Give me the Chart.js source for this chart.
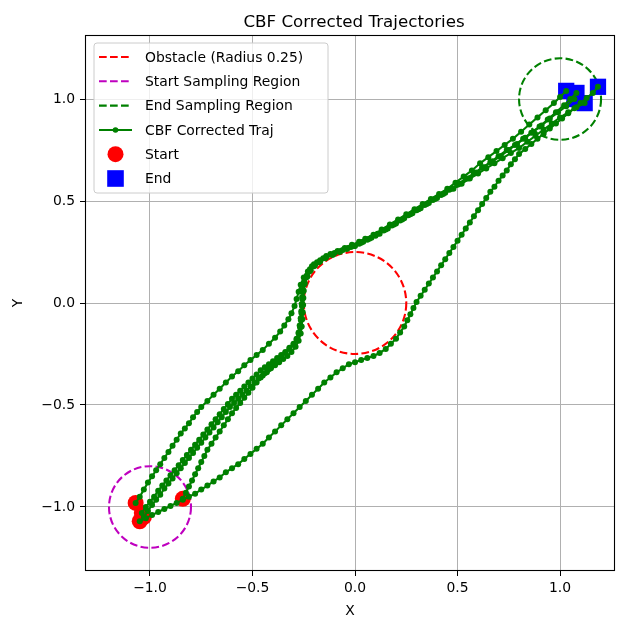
<!DOCTYPE html>
<html><head><meta charset="utf-8">
<script src="https://cdn.jsdelivr.net/npm/chart.js@4.4.0/dist/chart.umd.min.js"></script>
<style>html,body{margin:0;padding:0;background:#fff;}#wrap{width:617px;height:622px;}</style>
</head><body><div id="wrap"><canvas id="c" width="617" height="622"></canvas></div>
<script>
// ---------- data ----------
const xTicks = [-1.0, -0.5, 0.0, 0.5, 1.0];
const yTicks = [-1.0, -0.5, 0.0, 0.5, 1.0];
const xLimits = [-1.317, 1.268];
const yLimits = [-1.314, 1.314];

const regionNames = ['Obstacle (Radius 0.25)', 'Start Sampling Region', 'End Sampling Region'];
const regionCenters = [[0, 0], [-1, -1], [1, 1]];
const regionRadii = [0.25, 0.2, 0.2];

const starts = [[-1.07,-0.98],[-1.04,-1.03],[-1.03,-1.05],[-0.84,-0.96],[-1.05,-1.07]];
const ends = [[1.03,1.04],[1.08,1.03],[1.12,0.98],[1.07,1.0],[1.185,1.06]];

const traj1 = [[-1.07,-0.98],[-1.05,-0.95],[-1.03,-0.915],[-1.01,-0.88],[-0.99,-0.85],[-0.97,-0.82],[-0.95,-0.79],[-0.93,-0.76],[-0.91,-0.73],[-0.89,-0.70],[-0.87,-0.67],[-0.85,-0.64],[-0.83,-0.615],[-0.81,-0.59],[-0.79,-0.56],[-0.77,-0.535],[-0.75,-0.51],[-0.72,-0.48],[-0.69,-0.45],[-0.66,-0.42],[-0.63,-0.39],[-0.60,-0.36],[-0.57,-0.335],[-0.54,-0.305],[-0.51,-0.28],[-0.48,-0.255],[-0.45,-0.23],[-0.42,-0.20],[-0.39,-0.17],[-0.365,-0.14],[-0.345,-0.11],[-0.325,-0.08],[-0.31,-0.05],[-0.295,-0.015],[-0.285,0.02],[-0.275,0.055],[-0.265,0.09],[-0.25,0.125],[-0.23,0.155],[-0.21,0.18],[-0.185,0.20],[-0.155,0.22],[-0.12,0.24],[-0.085,0.255],[-0.05,0.27],[-0.015,0.285],[0.02,0.30],[0.05,0.315],[0.09,0.335],[0.13,0.36],[0.17,0.385],[0.21,0.41],[0.25,0.435],[0.29,0.46],[0.33,0.485],[0.37,0.51],[0.41,0.535],[0.45,0.56],[0.49,0.59],[0.53,0.62],[0.57,0.65],[0.61,0.685],[0.65,0.715],[0.69,0.745],[0.73,0.775],[0.77,0.805],[0.81,0.84],[0.85,0.875],[0.89,0.91],[0.93,0.945],[0.97,0.98],[1.00,1.01],[1.03,1.04]];

const traj2 = [[-1.04,-1.03],[-1.02,-1.00],[-1.00,-0.975],[-0.98,-0.95],[-0.96,-0.92],[-0.94,-0.895],[-0.92,-0.87],[-0.90,-0.845],[-0.88,-0.82],[-0.86,-0.795],[-0.84,-0.77],[-0.82,-0.745],[-0.80,-0.72],[-0.78,-0.695],[-0.76,-0.67],[-0.74,-0.645],[-0.72,-0.62],[-0.70,-0.595],[-0.68,-0.57],[-0.66,-0.545],[-0.64,-0.52],[-0.62,-0.495],[-0.60,-0.47],[-0.58,-0.45],[-0.56,-0.43],[-0.54,-0.41],[-0.52,-0.39],[-0.50,-0.37],[-0.48,-0.35],[-0.46,-0.33],[-0.44,-0.315],[-0.42,-0.30],[-0.40,-0.285],[-0.38,-0.27],[-0.36,-0.255],[-0.34,-0.24],[-0.32,-0.22],[-0.30,-0.20],[-0.285,-0.175],[-0.275,-0.145],[-0.27,-0.11],[-0.265,-0.075],[-0.262,-0.04],[-0.26,-0.005],[-0.258,0.03],[-0.255,0.065],[-0.248,0.10],[-0.235,0.135],[-0.22,0.165],[-0.20,0.19],[-0.17,0.21],[-0.14,0.23],[-0.10,0.245],[-0.06,0.26],[-0.02,0.275],[0.02,0.29],[0.06,0.31],[0.10,0.33],[0.14,0.355],[0.18,0.38],[0.22,0.405],[0.26,0.43],[0.30,0.455],[0.34,0.48],[0.38,0.505],[0.42,0.53],[0.46,0.555],[0.50,0.58],[0.54,0.61],[0.58,0.635],[0.62,0.665],[0.66,0.69],[0.70,0.72],[0.74,0.75],[0.78,0.775],[0.82,0.805],[0.86,0.835],[0.90,0.865],[0.94,0.90],[0.98,0.935],[1.02,0.97],[1.05,1.0],[1.08,1.03]];

const traj3 = [[-1.03,-1.05],[-1.01,-1.02],[-0.99,-0.99],[-0.97,-0.965],[-0.95,-0.94],[-0.93,-0.91],[-0.91,-0.885],[-0.89,-0.86],[-0.87,-0.835],[-0.85,-0.81],[-0.83,-0.785],[-0.81,-0.76],[-0.79,-0.735],[-0.77,-0.71],[-0.75,-0.685],[-0.73,-0.66],[-0.71,-0.635],[-0.69,-0.61],[-0.67,-0.585],[-0.65,-0.56],[-0.63,-0.535],[-0.61,-0.51],[-0.59,-0.49],[-0.57,-0.47],[-0.55,-0.45],[-0.53,-0.43],[-0.51,-0.41],[-0.49,-0.39],[-0.47,-0.37],[-0.45,-0.355],[-0.43,-0.34],[-0.41,-0.32],[-0.39,-0.305],[-0.37,-0.29],[-0.35,-0.275],[-0.33,-0.26],[-0.31,-0.24],[-0.29,-0.215],[-0.275,-0.185],[-0.265,-0.15],[-0.26,-0.115],[-0.257,-0.08],[-0.255,-0.045],[-0.253,-0.01],[-0.252,0.025],[-0.25,0.06],[-0.245,0.095],[-0.232,0.13],[-0.216,0.16],[-0.195,0.185],[-0.17,0.205],[-0.14,0.225],[-0.105,0.24],[-0.07,0.255],[-0.035,0.27],[0.0,0.28],[0.04,0.30],[0.08,0.32],[0.12,0.34],[0.16,0.365],[0.20,0.39],[0.24,0.415],[0.28,0.44],[0.32,0.465],[0.36,0.49],[0.40,0.515],[0.44,0.54],[0.48,0.56],[0.52,0.585],[0.56,0.61],[0.60,0.635],[0.64,0.66],[0.68,0.685],[0.72,0.71],[0.76,0.735],[0.80,0.76],[0.84,0.79],[0.88,0.82],[0.92,0.85],[0.96,0.88],[1.00,0.91],[1.04,0.935],[1.08,0.96],[1.12,0.98]];

const traj4 = [[-0.84,-0.96],[-0.825,-0.93],[-0.81,-0.90],[-0.795,-0.87],[-0.78,-0.84],[-0.765,-0.81],[-0.75,-0.78],[-0.735,-0.75],[-0.72,-0.72],[-0.70,-0.69],[-0.68,-0.66],[-0.66,-0.63],[-0.64,-0.60],[-0.62,-0.57],[-0.60,-0.54],[-0.58,-0.515],[-0.56,-0.49],[-0.54,-0.465],[-0.52,-0.44],[-0.50,-0.415],[-0.48,-0.39],[-0.46,-0.365],[-0.44,-0.345],[-0.42,-0.325],[-0.40,-0.305],[-0.38,-0.285],[-0.36,-0.265],[-0.34,-0.245],[-0.32,-0.225],[-0.30,-0.205],[-0.285,-0.18],[-0.275,-0.15],[-0.268,-0.12],[-0.264,-0.085],[-0.261,-0.05],[-0.259,-0.015],[-0.257,0.02],[-0.255,0.055],[-0.25,0.09],[-0.238,0.125],[-0.222,0.155],[-0.20,0.18],[-0.175,0.20],[-0.145,0.22],[-0.11,0.235],[-0.075,0.25],[-0.04,0.265],[-0.005,0.28],[0.03,0.295],[0.07,0.315],[0.11,0.34],[0.15,0.36],[0.19,0.385],[0.23,0.41],[0.27,0.435],[0.31,0.46],[0.35,0.485],[0.39,0.51],[0.43,0.535],[0.47,0.56],[0.51,0.585],[0.55,0.61],[0.59,0.64],[0.63,0.665],[0.67,0.695],[0.71,0.72],[0.75,0.75],[0.79,0.78],[0.83,0.81],[0.87,0.84],[0.91,0.87],[0.95,0.905],[0.99,0.935],[1.03,0.965],[1.07,1.0]];

const traj5 = [[-1.05,-1.07],[-1.02,-1.055],[-0.99,-1.04],[-0.96,-1.025],[-0.93,-1.01],[-0.90,-0.995],[-0.87,-0.98],[-0.84,-0.965],[-0.81,-0.95],[-0.78,-0.935],[-0.75,-0.915],[-0.72,-0.895],[-0.69,-0.875],[-0.66,-0.855],[-0.63,-0.83],[-0.60,-0.81],[-0.57,-0.79],[-0.54,-0.765],[-0.51,-0.74],[-0.48,-0.715],[-0.45,-0.69],[-0.42,-0.66],[-0.39,-0.63],[-0.36,-0.60],[-0.33,-0.57],[-0.30,-0.54],[-0.27,-0.51],[-0.24,-0.48],[-0.21,-0.45],[-0.18,-0.42],[-0.15,-0.39],[-0.12,-0.365],[-0.09,-0.34],[-0.06,-0.32],[-0.03,-0.30],[0.00,-0.29],[0.03,-0.28],[0.06,-0.27],[0.09,-0.26],[0.12,-0.245],[0.15,-0.225],[0.175,-0.20],[0.20,-0.175],[0.22,-0.145],[0.24,-0.115],[0.255,-0.085],[0.27,-0.055],[0.285,-0.025],[0.30,0.005],[0.32,0.035],[0.34,0.065],[0.36,0.095],[0.38,0.125],[0.40,0.155],[0.42,0.185],[0.44,0.215],[0.46,0.245],[0.48,0.275],[0.50,0.305],[0.52,0.335],[0.54,0.365],[0.56,0.395],[0.58,0.425],[0.60,0.455],[0.62,0.485],[0.64,0.515],[0.66,0.545],[0.68,0.57],[0.70,0.60],[0.72,0.625],[0.74,0.65],[0.76,0.68],[0.78,0.705],[0.80,0.73],[0.83,0.755],[0.86,0.78],[0.89,0.805],[0.92,0.83],[0.95,0.855],[0.98,0.88],[1.01,0.905],[1.04,0.93],[1.07,0.955],[1.10,0.98],[1.13,1.005],[1.16,1.03],[1.185,1.06]];

const trajectories = [traj1, traj2, traj3, traj4, traj5];
const legendLabels = ['Obstacle (Radius 0.25)','Start Sampling Region','End Sampling Region','CBF Corrected Traj','Start','End'];
const titleText = 'CBF Corrected Trajectories';

// ---------- styles ----------
const FONT = '"DejaVu Sans", Verdana, sans-serif';
const regionColors = ['#ff0000', '#bf00bf', '#008000'];
const trajColor = '#008000';
const DASH = [7.7, 3.3];

const toPts = arr => arr.map(p => ({x: p[0], y: p[1]}));
const fmt = v => (Math.abs(v) < 1e-9 ? '0.0' : v.toFixed(1).replace('-', '\u2212'));

const datasets = [];
trajectories.forEach((t, i) => {
  datasets.push({
    label: i === 0 ? legendLabels[3] : '_nolegend_',
    data: toPts(t), showLine: true, borderColor: trajColor, borderWidth: 2.1,
    pointRadius: 3, pointBackgroundColor: trajColor, pointBorderWidth: 0,
    pointHoverRadius: 3, tension: 0, order: 1
  });
});
datasets.push({label: legendLabels[4], data: toPts(starts), pointStyle: 'circle', pointRadius: 8,
  pointBackgroundColor: '#ff0000', pointBorderColor: '#ff0000', pointBorderWidth: 0, showLine: false, order: 5});
datasets.push({label: legendLabels[5], data: toPts(ends), pointStyle: 'rect', pointRadius: 11.5,
  pointBackgroundColor: '#0000ff', pointBorderColor: '#0000ff', pointBorderWidth: 0, showLine: false, order: 5});

const overlay = {
  id: 'overlay',
  beforeDatasetsDraw(chart) {
    const {ctx, chartArea: a, scales: {x, y}} = chart;
    ctx.save();
    ctx.beginPath(); ctx.rect(a.left, a.top, a.right - a.left, a.bottom - a.top); ctx.clip();
    regionCenters.forEach((c, i) => {
      const cx = x.getPixelForValue(c[0]), cy = y.getPixelForValue(c[1]);
      const rx = Math.abs(x.getPixelForValue(c[0] + regionRadii[i]) - cx);
      const ry = Math.abs(y.getPixelForValue(c[1] + regionRadii[i]) - cy);
      ctx.beginPath(); ctx.ellipse(cx, cy, rx, ry, 0, 0, Math.PI * 2);
      ctx.setLineDash(DASH); ctx.lineWidth = 2.08; ctx.strokeStyle = regionColors[i]; ctx.stroke();
    });
    ctx.restore();
  },
  afterDraw(chart) {
    const {ctx, chartArea: a} = chart;
    ctx.save();
    ctx.strokeStyle = '#000'; ctx.lineWidth = 1.1; ctx.setLineDash([]);
    ctx.strokeRect(Math.round(a.left) + 0.5, Math.round(a.top) + 0.5, Math.round(a.right - a.left) - 1, Math.round(a.bottom - a.top) - 1);
    ctx.fillStyle = '#000'; ctx.font = '16.7px ' + FONT; ctx.textAlign = 'center'; ctx.textBaseline = 'alphabetic';
    ctx.fillText(titleText, 354, 26.5);
    const bx = 94, by = 43, bw = 234, bh = 150, r = 3;
    ctx.beginPath();
    ctx.moveTo(bx + r, by); ctx.lineTo(bx + bw - r, by); ctx.quadraticCurveTo(bx + bw, by, bx + bw, by + r);
    ctx.lineTo(bx + bw, by + bh - r); ctx.quadraticCurveTo(bx + bw, by + bh, bx + bw - r, by + bh);
    ctx.lineTo(bx + r, by + bh); ctx.quadraticCurveTo(bx, by + bh, bx, by + bh - r);
    ctx.lineTo(bx, by + r); ctx.quadraticCurveTo(bx, by, bx + r, by); ctx.closePath();
    ctx.fillStyle = 'rgba(255,255,255,0.8)'; ctx.fill();
    ctx.strokeStyle = '#cccccc'; ctx.lineWidth = 1; ctx.stroke();
    const rows = [57, 81.3, 105.6, 130, 154.2, 178.5];
    const x0 = 99, x1 = 132, xm = 115.5, tx = 145;
    for (let i = 0; i < 3; i++) {
      ctx.beginPath(); ctx.setLineDash(DASH); ctx.strokeStyle = regionColors[i]; ctx.lineWidth = 2.08;
      ctx.moveTo(x0, rows[i]); ctx.lineTo(x1, rows[i]); ctx.stroke();
    }
    ctx.setLineDash([]);
    ctx.beginPath(); ctx.strokeStyle = trajColor; ctx.lineWidth = 2.08;
    ctx.moveTo(x0, rows[3]); ctx.lineTo(x1, rows[3]); ctx.stroke();
    ctx.beginPath(); ctx.fillStyle = trajColor; ctx.arc(xm, rows[3], 2.8, 0, Math.PI * 2); ctx.fill();
    ctx.beginPath(); ctx.fillStyle = '#ff0000'; ctx.arc(xm, rows[4], 8, 0, Math.PI * 2); ctx.fill();
    ctx.fillStyle = '#0000ff'; ctx.fillRect(xm - 8.3, rows[5] - 8.3, 16.6, 16.6);
    ctx.fillStyle = '#000'; ctx.font = '13.9px ' + FONT; ctx.textAlign = 'left'; ctx.textBaseline = 'middle';
    legendLabels.forEach((t, i) => ctx.fillText(t, tx, rows[i] + 1));
    ctx.restore();
  }
};

const tickFont = {family: FONT, size: 13.9};
new Chart(document.getElementById('c'), {
  type: 'scatter',
  data: {datasets},
  options: {
    responsive: false, animation: false, events: [],
    layout: {autoPadding: false, padding: {top: 35, right: 2, left: 0, bottom: 0}},
    plugins: {legend: {display: false}, title: {display: false}, tooltip: {enabled: false}},
    scales: {
      x: {
        type: 'linear', min: xLimits[0], max: xLimits[1],
        afterBuildTicks: s => { s.ticks = xTicks.map(v => ({value: v})); },
        afterFit: s => { s.height = 51; s.paddingLeft = 0; s.paddingRight = 0; },
        ticks: {callback: v => fmt(v), font: tickFont, color: '#000', padding: 4, maxRotation: 0, autoSkip: false},
        grid: {color: '#b0b0b0', lineWidth: 1, tickColor: '#000', tickLength: 5, drawTicks: true},
        border: {display: false},
        title: {display: true, text: 'X', font: tickFont, color: '#000', padding: {top: 0, bottom: 2}}
      },
      y: {
        type: 'linear', min: yLimits[0], max: yLimits[1],
        afterBuildTicks: s => { s.ticks = yTicks.map(v => ({value: v})); },
        afterFit: s => { s.width = 85; s.paddingTop = 0; s.paddingBottom = 0; },
        ticks: {callback: v => fmt(v), font: tickFont, color: '#000', padding: 5, autoSkip: false},
        grid: {color: '#b0b0b0', lineWidth: 1, tickColor: '#000', tickLength: 5, drawTicks: true},
        border: {display: false},
        title: {display: true, text: 'Y', font: tickFont, color: '#000', padding: {top: 10, bottom: 0}}
      }
    }
  },
  plugins: [overlay]
});
</script>
</body></html>
